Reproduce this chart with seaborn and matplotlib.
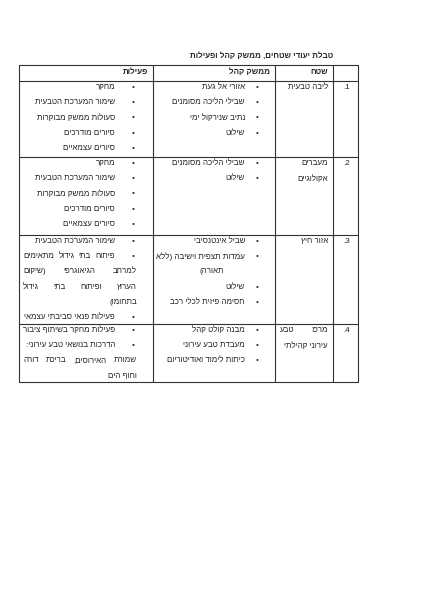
import matplotlib
matplotlib.use("Agg")
import matplotlib.pyplot as plt
import seaborn as sns

# ---- table content (logical Hebrew order) ----
title = "טבלת יעודי שטחים, ממשק קהל ופעילות"
headers = ["שטח", "ממשק קהל", "פעילות"]
row_numbers = [1, 2, 3, 4]

# each line: (text, bullet, justified)
areas = [
    [("ליבה טבעית", False, False)],
    [("מעברים", False, False), ("אקולוגיים", False, False)],
    [("אזור חיץ", False, False)],
    [("מרכז טבע", False, True), ("עירוני קהילתי", False, False)],
]
community = [
    [("אזורי אל געת", True, False), ("שבילי הליכה מסומנים", True, False),
     ("נתיב שנירקול ימי", True, False), ("שילוט", True, False)],
    [("שבילי הליכה מסומנים", True, False), ("שילוט", True, False)],
    [("שביל אינטנסיבי", True, False), ("עמדות תצפית וישיבה (ללא", True, False),
     ("תאורה)", False, False), ("שילוט", True, False), ("חסימה פיזית לכלי רכב", True, False)],
    [("מבנה קולט קהל", True, False), ("מעבדת טבע עירוני", True, False),
     ("כיתות לימוד ואודיטוריום", True, False)],
]
activities = [
    [("מחקר", True, False), ("שימור המערכת הטבעית", True, False),
     ("סעולות ממשק מבוקרות", True, False), ("סיורים מודרכים", True, False),
     ("סיורים עצמאיים", True, False)],
    [("מחקר", True, False), ("שימור המערכת הטבעית", True, False),
     ("סעולות ממשק מבוקרות", True, False), ("סיורים מודרכים", True, False),
     ("סיורים עצמאיים", True, False)],
    [("שימור המערכת הטבעית", True, False), ("פיתוח בתי גידול מתאימים", True, True),
     ("למרחב הגיאוגרפי (שיקום", False, True), ("הערוץ ופיתוח בתי גידול", False, True),
     ("בתחומו)", False, False), ("פעילות פנאי סביבתי עצמאי", True, False)],
    [("פעילות מחקר בשיתוף ציבור", True, False), ("הדרכות בנושאי טבע עירוני:", True, False),
     ("שמורת האירוסים, בריכת דורה", False, True), ("וחוף הים", False, False)],
]

# ---- layout (pixels) ----
W, H = 423, 598
x_cols = [19, 153, 275, 333, 358]
y_rows = [65, 81, 157, 235, 324, 382]
line_h = 15.2
fs = 5.8

sns.set_theme(style="white")
plt.rcParams["font.family"] = ["Liberation Sans", "DejaVu Sans"]

fig = plt.figure(figsize=(W / 100, H / 100), dpi=100)
ax = fig.add_axes([0, 0, 1, 1])
ax.set_xlim(0, W)
ax.set_ylim(H, 0)
ax.axis("off")


def vis(s):
    mirror = {"(": ")", ")": "("}
    return "".join(mirror.get(c, c) for c in reversed(s))


fig.canvas.draw()
renderer = fig.canvas.get_renderer()


def put(text, xr, y, justify=False, left=None, bold=False):
    if not justify:
        ax.text(xr, y, vis(text), ha="right", va="center", fontsize=fs,
                fontweight="bold" if bold else "normal")
        return
    words = text.split()
    arts = [ax.text(0, y, vis(w), ha="left", va="center", fontsize=fs) for w in words]
    inv = ax.transData.inverted()
    widths = []
    for a in arts:
        bb = a.get_window_extent(renderer)
        x0 = inv.transform((bb.x0, bb.y0))[0]
        x1 = inv.transform((bb.x1, bb.y0))[0]
        widths.append(x1 - x0)
    gap = (xr - left - sum(widths)) / max(len(words) - 1, 1)
    x = xr
    for a, w in zip(arts, widths):
        x -= w
        a.set_x(x)
        x -= gap


# grid
for x in x_cols:
    ax.plot([x, x], [y_rows[0], y_rows[-1]], color="#333333", lw=0.8)
for y in y_rows:
    ax.plot([x_cols[0], x_cols[-1]], [y, y], color="#333333", lw=0.8)

ax.text(333, 56, vis(title), ha="right", va="center", fontsize=fs, fontweight="bold")
for h, xr in zip(headers, [328, 270, 148]):
    put(h, xr, 72.5, bold=True)

for i, n in enumerate(row_numbers):
    y0 = y_rows[i + 1] + 6.5
    ax.text(347, y0, f".{n}", ha="center", va="center", fontsize=fs)
    for k, (t, b, j) in enumerate(areas[i]):
        put(t, 328, y0 + k * line_h, justify=j, left=280)
    for k, (t, b, j) in enumerate(community[i]):
        y = y0 + k * line_h
        if b:
            ax.text(257, y, "•", ha="center", va="center", fontsize=fs)
            put(t, 245, y)
        else:
            put(t, 224, y)
    for k, (t, b, j) in enumerate(activities[i]):
        y = y0 + k * line_h
        if b:
            ax.text(133, y, "•", ha="center", va="center", fontsize=fs)
            put(t, 115, y, justify=j, left=23)
        else:
            put(t, 137, y, justify=j, left=23)

fig.savefig("out.png", dpi=100, facecolor="white")
